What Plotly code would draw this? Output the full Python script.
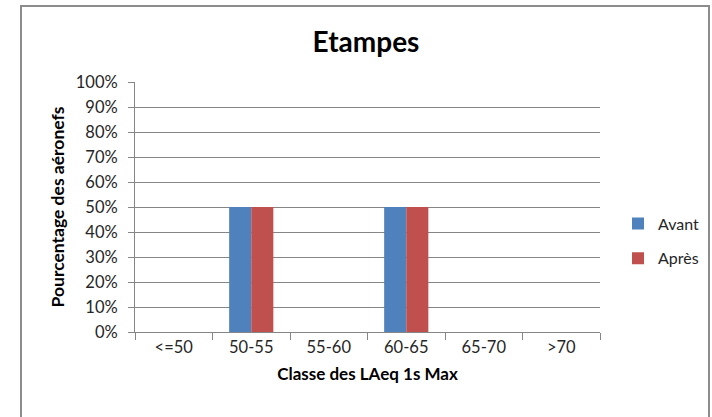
import plotly.graph_objects as go

categories = ["<=50", "50-55", "55-60", "60-65", "65-70", ">70"]
avant = [0.0, 0.5, 0.0, 0.5, 0.0, 0.0]
apres = [0.0, 0.5, 0.0, 0.5, 0.0, 0.0]

W, H = 712, 417
L, R, T, B = 135, 112, 82, 85
PW, PH = W - L - R, H - T - B

def px_x(px):
    return (px - L) / PW

def px_y(py):
    return (H - B - py) / PH

FONT = "Lato, 'Open Sans', sans-serif"
LINE = "#868686"
TXT = "#262626"

fig = go.Figure()
fig.add_trace(go.Bar(x=categories, y=avant, name="Avant", marker_color="#4F81BD",
                     marker_line_width=0, legendgroup="a"))
fig.add_trace(go.Bar(x=categories, y=apres, name="Après", marker_color="#C0504D",
                     marker_line_width=0, legendgroup="b"))

fig.update_layout(
    width=W, height=H,
    margin=dict(l=L, r=R, t=T, b=B, autoexpand=False),
    paper_bgcolor="white", plot_bgcolor="white",
    font=dict(family=FONT, size=16, color=TXT),
    barmode="group", bargap=0.43, bargroupgap=0,
    title=dict(text="<b>Etampes</b>", x=366 / W, xanchor="center",
               y=1 - 42 / H, yanchor="middle",
               font=dict(size=28, color="black", family=FONT)),
    showlegend=True,
    legend=dict(x=px_x(618), y=px_y(241), xanchor="left", yanchor="middle",
                font=dict(size=16, color=TXT), tracegroupgap=11,
                itemwidth=30, bgcolor="rgba(0,0,0,0)"),
    xaxis=dict(
        type="category", tickson="boundaries", ticks="outside", ticklen=7,
        tickcolor=LINE, showline=True, linecolor=LINE, linewidth=1,
        showgrid=False, tickfont=dict(size=16.5, color=TXT),
        title=dict(text="<b>Classe des LAeq 1s Max</b>", standoff=12,
                   font=dict(size=17, color="black")),
    ),
    yaxis=dict(
        range=[0, 1], dtick=0.1, tickformat=".0%", ticks="outside", ticklen=6,
        tickcolor=LINE, showline=True, linecolor=LINE, linewidth=1,
        showgrid=True, gridcolor=LINE, gridwidth=1, zeroline=False,
        tickfont=dict(size=16.5, color=TXT), ticklabelstandoff=7,
        title=dict(text="<b>Pourcentage des aéronefs</b>", standoff=6,
                   font=dict(size=17.5, color="black")),
    ),
    shapes=[dict(type="rect", xref="paper", yref="paper",
                 x0=px_x(21), x1=px_x(709), y0=px_y(420), y1=px_y(6),
                 line=dict(color="#8c8c8c", width=2), layer="below")],
)

fig.write_html("out.html")
